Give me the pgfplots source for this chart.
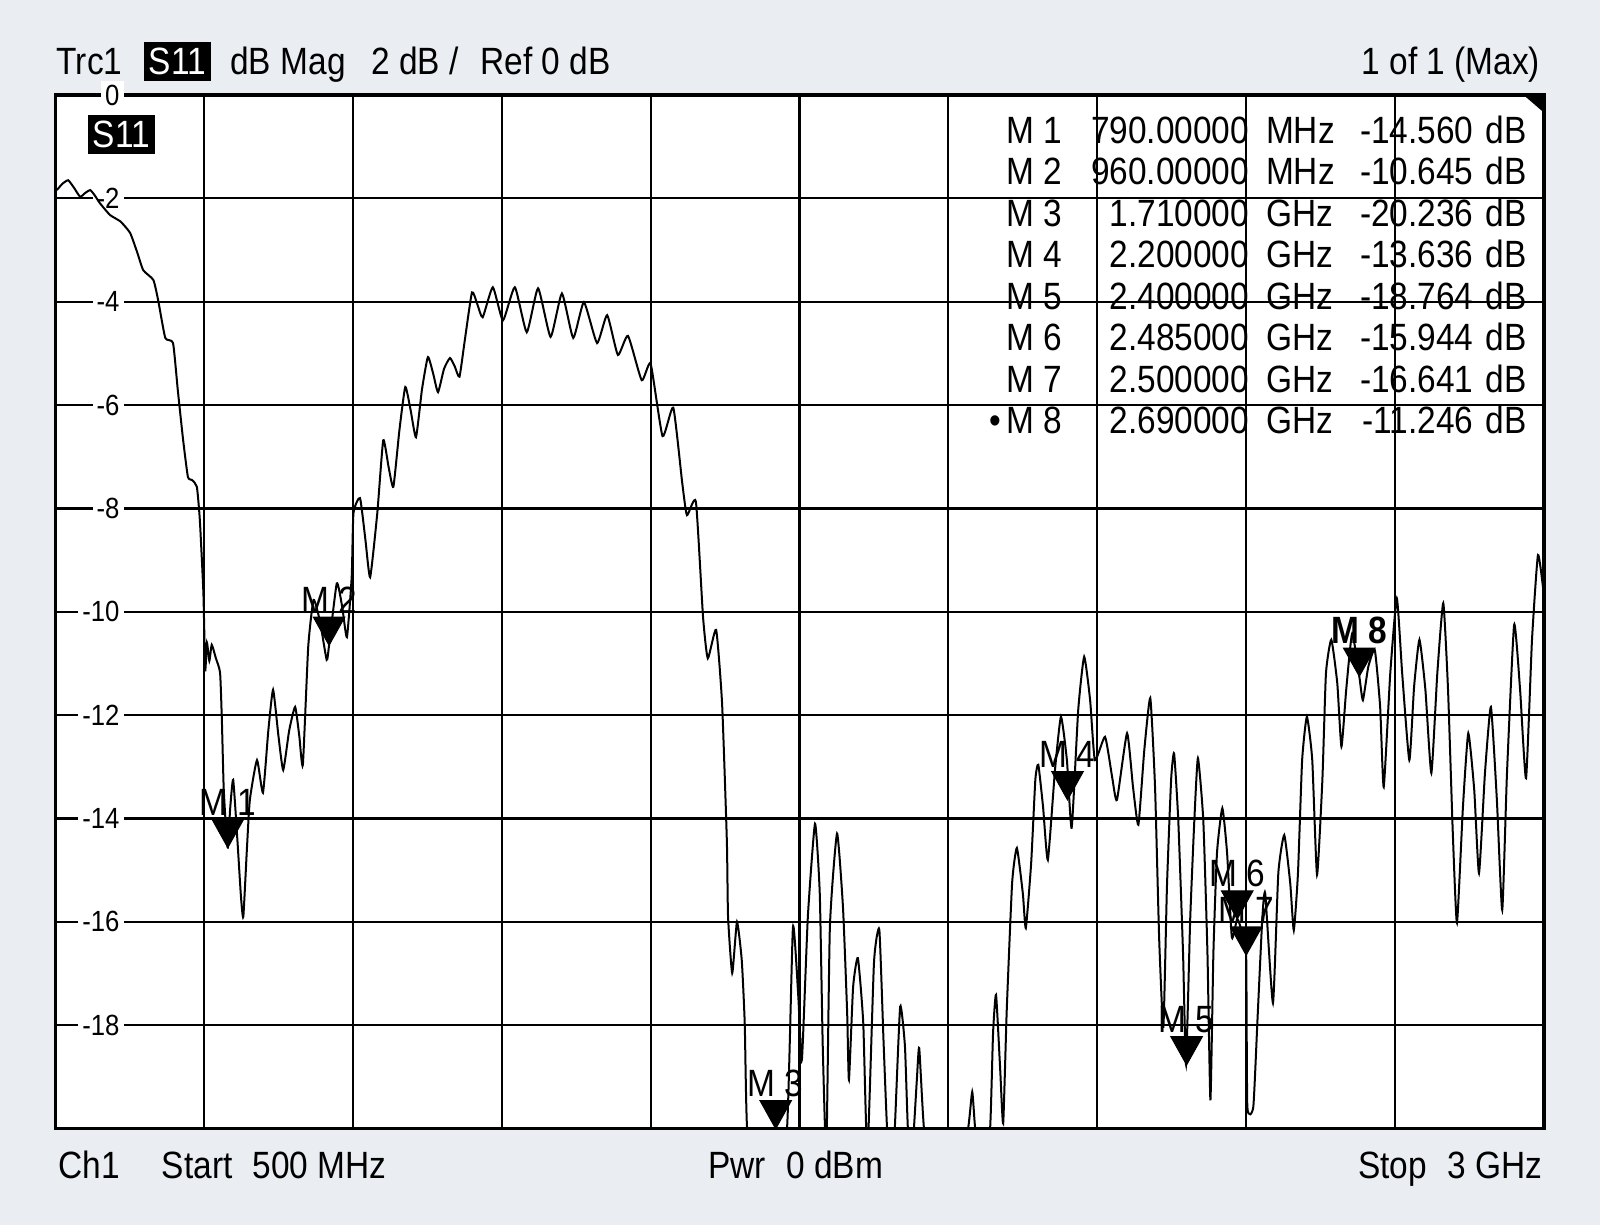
\documentclass[border=0pt]{standalone}
\usepackage{fontspec}
\setmainfont{Liberation Sans}[FakeStretch=0.88]
\usepackage{pgfplots}
\pgfplotsset{compat=1.18}
\definecolor{bg}{RGB}{234,238,242}
\newcommand{\tf}{\fontsize{9.5}{11}\selectfont}
\pgfdeclareplotmark{dtri}{%
  \pgfpathmoveto{\pgfqpoint{0pt}{0pt}}%
  \pgfpathlineto{\pgfqpoint{-3.9pt}{7pt}}%
  \pgfpathlineto{\pgfqpoint{3.9pt}{7pt}}%
  \pgfpathclose
  \pgfusepathqfillstroke}
\begin{document}
\begin{tikzpicture}[x=1pt,y=1pt]
\fill[bg] (0,0) rectangle (400,306.25);
\begin{axis}[at={(13.78pt,24.1pt)}, anchor=south west, scale only axis,
  width=372.2pt, height=258.4pt,
  xmin=0.5, xmax=3, ymin=-20, ymax=0,
  xtick={0.75,1,1.25,1.5,1.75,2,2.25,2.5,2.75}, xticklabels={},
  ytick={-18,-16,-14,-12,-10,-8,-6,-4,-2,0},
  yticklabels={-18,-16,-14,-12,-10,-8,-6,-4,-2,0},
  grid=major, major grid style={black, line width=0.55pt},
  major tick length=0pt,
  axis line style={black, line width=0.8pt},
  axis background/.style={fill=white},
  yticklabel style={anchor=east, xshift=17.3pt, fill=white, inner sep=1pt, font=\fontsize{7.3}{8}\selectfont},
]
\addplot[black, line width=0.5pt, smooth, tension=0.3] coordinates {
(0.503,-1.84) (0.512,-1.72) (0.522,-1.65) (0.532,-1.80) (0.542,-1.97) (0.550,-1.90) (0.559,-1.84) (0.567,-1.95)
(0.575,-2.09) (0.592,-2.32) (0.610,-2.45) (0.626,-2.67) (0.638,-3.05) (0.648,-3.39) (0.665,-3.58) (0.673,-3.97)
(0.685,-4.70) (0.698,-4.80) (0.706,-5.71) (0.715,-6.68) (0.723,-7.39) (0.730,-7.45) (0.738,-7.58) (0.743,-8.22)
(0.749,-9.64) (0.752,-11.13) (0.755,-10.60) (0.759,-10.95) (0.763,-10.64) (0.770,-10.90) (0.777,-11.18) (0.780,-12.09)
(0.783,-13.39) (0.787,-14.20) (0.790,-14.56) (0.794,-13.80) (0.799,-13.25) (0.806,-14.40) (0.812,-15.50) (0.816,-15.90)
(0.822,-14.60) (0.827,-13.64) (0.839,-12.87) (0.849,-13.50) (0.858,-12.30) (0.866,-11.51) (0.875,-12.40) (0.883,-13.06)
(0.893,-12.30) (0.903,-11.84) (0.910,-12.40) (0.916,-12.96) (0.925,-10.68) (0.934,-9.77) (0.945,-10.20) (0.956,-10.93)
(0.960,-10.65) (0.973,-9.45) (0.982,-9.90) (0.990,-10.49) (0.998,-9.33) (1.001,-8.09) (1.012,-7.80) (1.021,-8.60)
(1.029,-9.33) (1.041,-8.09) (1.051,-6.68) (1.060,-7.20) (1.068,-7.58) (1.078,-6.50) (1.088,-5.65) (1.097,-6.10)
(1.106,-6.62) (1.116,-5.70) (1.126,-5.07) (1.135,-5.40) (1.143,-5.75) (1.153,-5.30) (1.163,-5.09) (1.171,-5.25)
(1.179,-5.45) (1.188,-4.74) (1.200,-3.82) (1.209,-4.05) (1.218,-4.30) (1.235,-3.72) (1.252,-4.36) (1.272,-3.72)
(1.292,-4.59) (1.311,-3.74) (1.332,-4.68) (1.351,-3.84) (1.370,-4.70) (1.388,-4.01) (1.410,-4.80) (1.427,-4.26)
(1.445,-5.03) (1.462,-4.66) (1.485,-5.52) (1.500,-5.20) (1.520,-6.60) (1.538,-6.05) (1.553,-7.50) (1.561,-8.13)
(1.576,-7.87) (1.588,-10.10) (1.596,-10.90) (1.610,-10.35) (1.620,-11.78) (1.628,-14.44) (1.630,-15.90) (1.637,-16.99)
(1.645,-16.00) (1.653,-16.74) (1.658,-17.96) (1.662,-20.00) (1.680,-21.80) (1.705,-21.50) (1.729,-20.00) (1.739,-16.10)
(1.748,-17.45) (1.754,-18.67) (1.764,-15.90) (1.776,-14.10) (1.784,-15.45) (1.789,-18.40) (1.795,-20.50) (1.801,-16.10)
(1.813,-14.29) (1.823,-15.72) (1.830,-17.76) (1.833,-19.06) (1.840,-17.26) (1.848,-16.70) (1.857,-17.95) (1.864,-20.50)
(1.875,-16.80) (1.884,-16.15) (1.891,-18.28) (1.897,-20.00) (1.904,-21.00) (1.910,-20.00) (1.919,-17.64) (1.927,-18.40)
(1.932,-20.00) (1.939,-20.50) (1.947,-19.06) (1.951,-18.44) (1.959,-20.00) (1.977,-21.50) (2.011,-21.00) (2.033,-20.00)
(2.040,-19.29) (2.045,-20.00) (2.057,-21.00) (2.070,-20.00) (2.075,-18.15) (2.080,-17.41) (2.087,-18.86) (2.092,-19.90)
(2.098,-17.70) (2.107,-15.25) (2.115,-14.57) (2.125,-15.45) (2.130,-16.12) (2.139,-14.86) (2.146,-13.25) (2.151,-12.96)
(2.159,-13.78) (2.167,-14.80) (2.179,-13.06) (2.189,-12.03) (2.199,-12.87) (2.207,-14.18) (2.218,-11.90) (2.228,-10.87)
(2.238,-11.71) (2.246,-12.87) (2.263,-12.42) (2.275,-13.20) (2.283,-13.64) (2.300,-12.35) (2.310,-13.39) (2.319,-14.12)
(2.329,-12.67) (2.339,-11.67) (2.347,-13.39) (2.354,-16.35) (2.361,-18.03) (2.367,-15.32) (2.374,-13.25) (2.379,-12.74)
(2.386,-14.03) (2.394,-16.60) (2.399,-18.76) (2.406,-15.96) (2.413,-14.03) (2.419,-12.83) (2.428,-14.03) (2.435,-16.60)
(2.440,-19.45) (2.445,-16.60) (2.451,-14.67) (2.460,-13.80) (2.468,-14.67) (2.476,-16.30) (2.485,-15.94) (2.493,-16.20)
(2.500,-16.64) (2.502,-19.58) (2.512,-19.58) (2.519,-17.90) (2.527,-15.96) (2.532,-15.45) (2.545,-17.57) (2.554,-15.06)
(2.564,-14.32) (2.574,-15.25) (2.580,-16.16) (2.587,-15.06) (2.594,-12.87) (2.602,-12.03) (2.611,-12.87) (2.619,-15.09)
(2.628,-13.25) (2.634,-11.19) (2.643,-10.54) (2.653,-11.38) (2.660,-12.61) (2.668,-11.51) (2.678,-10.42) (2.690,-11.25)
(2.696,-11.71) (2.705,-11.07) (2.716,-10.74) (2.725,-11.84) (2.731,-13.39) (2.742,-11.19) (2.753,-9.74) (2.762,-11.19)
(2.774,-12.87) (2.782,-11.45) (2.791,-10.54) (2.801,-11.51) (2.811,-13.12) (2.821,-11.19) (2.831,-9.83) (2.839,-11.51)
(2.847,-14.28) (2.854,-16.02) (2.864,-13.78) (2.873,-12.35) (2.883,-13.45) (2.891,-15.06) (2.901,-13.12) (2.911,-11.84)
(2.921,-13.64) (2.930,-15.77) (2.938,-13.12) (2.950,-10.25) (2.960,-11.51) (2.970,-13.22) (2.980,-10.54) (2.990,-8.90)
(2.999,-9.58)
};
\addplot[only marks, mark=dtri, mark options={fill=black, draw=black, line width=0.3pt}] coordinates {
(0.79,-14.56) (0.96,-10.645) (1.71,-20.0) (2.2,-13.636) (2.4,-18.764) (2.485,-15.944) (2.5,-16.641) (2.69,-11.246)
};
\node[anchor=south, inner sep=0.5pt, font=\tf, yshift=7.3pt] at (axis cs:0.79,-14.56) {M 1};
\node[anchor=south, inner sep=0.5pt, font=\tf, yshift=7.3pt] at (axis cs:0.96,-10.645) {M 2};
\node[anchor=south, inner sep=0.5pt, font=\tf, yshift=7.3pt] at (axis cs:1.71,-20.0) {M 3};
\node[anchor=south, inner sep=0.5pt, font=\tf, yshift=7.3pt] at (axis cs:2.2,-13.636) {M 4};
\node[anchor=south, inner sep=0.5pt, font=\tf, yshift=7.3pt] at (axis cs:2.4,-18.764) {M 5};
\node[anchor=south, inner sep=0.5pt, font=\tf, yshift=7.3pt] at (axis cs:2.5,-16.641) {M 7};
\node[anchor=south, inner sep=0.5pt, font=\tf, yshift=7.3pt] at (axis cs:2.485,-15.944) {M 6};
\node[anchor=south, inner sep=0.5pt, font=\tf\bfseries, yshift=7.3pt] at (axis cs:2.69,-11.246) {M 8};
\fill[black] (rel axis cs:1,1) -- (rel axis cs:0.9863,1) -- (rel axis cs:1,0.983) -- cycle;
\end{axis}
% in-plot trace name
\node[fill=black, text=white, anchor=south west, inner xsep=1.3pt, inner ysep=1.5pt, font=\tf] at (21.7,267.5) {S11};
% header
\node[anchor=base west, inner sep=0pt, font=\tf] at (14.0,287.6) {Trc1};
\node[anchor=base west, fill=black, text=white, inner xsep=1.3pt, inner ysep=1.5pt, font=\tf] at (35.7,287.6) {S11};
\node[anchor=base west, inner sep=0pt, font=\tf] at (57.4,287.6) {dB Mag};
\node[anchor=base west, inner sep=0pt, font=\tf] at (92.6,287.6) {2 dB /};
\node[anchor=base west, inner sep=0pt, font=\tf] at (119.9,287.6) {Ref 0 dB};
\node[anchor=base east, inner sep=0pt, font=\tf] at (385.2,287.6) {1 of 1 (Max)};
% footer
\node[anchor=base west, inner sep=0pt, font=\tf] at (14.5,11.6) {Ch1};
\node[anchor=base west, inner sep=0pt, font=\tf] at (40.3,11.6) {Start};
\node[anchor=base west, inner sep=0pt, font=\tf] at (63.0,11.6) {500 MHz};
\node[anchor=base west, inner sep=0pt, font=\tf] at (176.8,11.6) {Pwr};
\node[anchor=base west, inner sep=0pt, font=\tf] at (196.4,11.6) {0 dBm};
\node[anchor=base west, inner sep=0pt, font=\tf] at (339.3,11.6) {Stop};
\node[anchor=base east, inner sep=0pt, font=\tf] at (385.7,11.6) {3 GHz};
% marker table
\foreach \i/\m/\v/\u/\d in {1/M 1/790.00000/MHz/-14.560, 2/M 2/960.00000/MHz/-10.645,
  3/M 3/1.710000/GHz/-20.236, 4/M 4/2.200000/GHz/-13.636, 5/M 5/2.400000/GHz/-18.764,
  6/M 6/2.485000/GHz/-15.944, 7/M 7/2.500000/GHz/-16.641, 8/M 8/2.690000/GHz/-11.246} {
  \pgfmathsetmacro{\yy}{270.5-(\i-1)*10.38}
  \node[anchor=base west, inner sep=0pt, font=\tf] at (251.3,\yy) {\m};
  \node[anchor=base east, inner sep=0pt, font=\tf] at (312.5,\yy) {\v};
  \node[anchor=base west, inner sep=0pt, font=\tf] at (316.3,\yy) {\u};
  \node[anchor=base east, inner sep=0pt, font=\tf] at (368.6,\yy) {\d};
  \node[anchor=base east, inner sep=0pt, font=\tf] at (381.9,\yy) {dB};
}
\node[anchor=base east, inner sep=0pt, font=\tf] at (250.6,{270.5-7*10.38}) {\textbullet};
\end{tikzpicture}
\end{document}
